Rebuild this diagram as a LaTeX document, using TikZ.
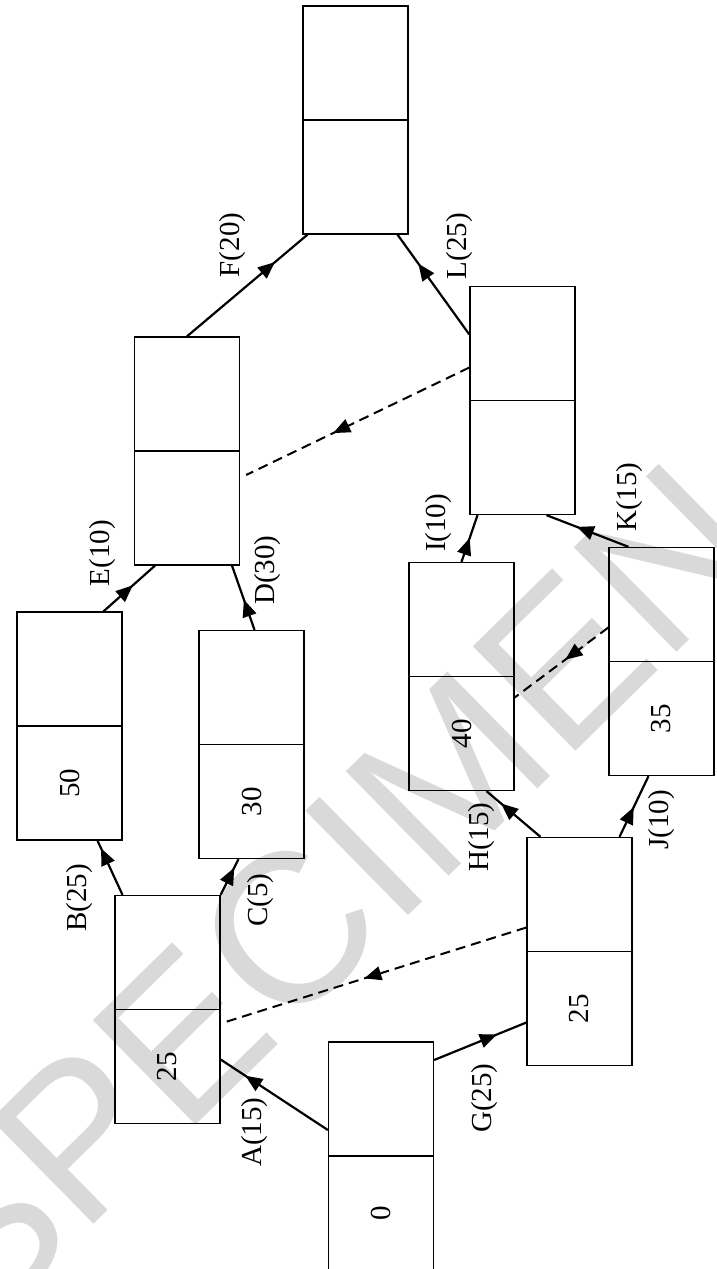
\documentclass[tikz,border=0pt]{standalone}
\usepackage{fontspec}
\setmainfont{Liberation Serif}
\newfontfamily\markfont{Liberation Sans}
\usetikzlibrary{arrows.meta,decorations.markings}

\tikzset{
  event/.style={draw,line width=1.3pt,minimum width=105pt,minimum height=228pt,inner sep=0pt},
  act/.style={line width=2.2pt,postaction={decorate},
    decoration={markings,mark=at position #1 with {\arrow{Triangle[length=17pt,width=14pt]}}}},
  dummy/.style={act=#1,line width=2pt,dash pattern=on 10pt off 6pt},
  lbl/.style={rotate=90,inner sep=0pt,font=\fontsize{29}{30}\selectfont},
}

\begin{document}
\begin{tikzpicture}[x=1pt,y=-1pt]
\useasboundingbox (0,0) rectangle (717,1269);
% watermark
\node[rotate=44.5,text=black!15,inner sep=0pt,font=\markfont\fontsize{213}{213}\selectfont] (wm) at (326,894) {SPECIMEN};

% events
\node[event] (s) at (381,1156) {};
\node[event] (a) at (167.5,1009.5) {};
\node[event] (g) at (579.5,951.5) {};
\node[event] (b) at (69.5,726) {};
\node[event] (c) at (251.5,744.5) {};
\node[event] (h) at (461.5,676.5) {};
\node[event] (j) at (661.5,661.5) {};
\node[event] (e) at (187,451) {};
\node[event] (i) at (522.5,400.5) {};
\node[event] (f) at (355.5,120) {};
\foreach \n in {s,a,g,b,c,h,j,e,i,f}
  \draw[line width=1.3pt] (\n.west) -- (\n.east);
\foreach \n/\v in {s/0,a/25,g/25,b/50,c/30,h/40,j/35}
  \node[lbl] (v\n) at ([yshift=-57pt]\n.center) {\v};

% activities
\draw[act=.77] ([yshift=26pt]s.west) -- ([yshift=-50pt]a.east);
\draw[act=.86] ([xshift=-45pt]a.north) -- ([xshift=28pt]b.south);
\draw[act=.76] (a.north east) -- ([xshift=-13pt]c.south);
\draw[act=.57] ([xshift=34pt]b.north) -- ([xshift=-32pt]e.south);
\draw[act=.47] ([xshift=3pt]c.north) -- ([xshift=45pt]e.south);
\draw[act=.73] (e.north) -- ([xshift=-48pt]f.south);
\draw[act=.71] ([yshift=66pt]i.west) -- ([xshift=42pt]f.south);
\draw[act=.68] ([yshift=96pt]s.east) -- ([yshift=-71pt]g.west);
\draw[act=.73] ([xshift=-39pt]g.north) -- ([xshift=25pt]h.south);
\draw[act=.49] ([xshift=40pt]g.north) -- ([xshift=-13pt]j.south);
\draw[act=.51] (h.north) -- ([xshift=-45pt]i.south);
\draw[act=.63] ([xshift=-33pt]j.north) -- ([xshift=24pt]i.south);
% dummies
\draw[dummy=.61] ([yshift=33pt]i.west) -- ([xshift=6pt,yshift=-24pt]e.east);
\draw[dummy=.53] ([yshift=24pt]g.west) -- ([yshift=-14pt]a.east);
\draw[dummy=.46] ([yshift=34pt]j.west) -- ([yshift=-21pt]h.east);

% labels
\node[lbl] (lA) at (255,1132) {A(15)};
\node[lbl] (lB) at (80,898) {B(25)};
\node[lbl] (lC) at (261,900) {C(5)};
\node[lbl] (lD) at (268,570) {D(30)};
\node[lbl] (lE) at (103,553) {E(10)};
\node[lbl] (lF) at (233,245) {F(20)};
\node[lbl] (lG) at (485,1098) {G(25)};
\node[lbl] (lH) at (482,837) {H(15)};
\node[lbl] (lI) at (439,523) {I(10)};
\node[lbl] (lJ) at (662,820) {J(10)};
\node[lbl] (lK) at (630,497) {K(15)};
\node[lbl] (lL) at (460,246) {L(25)};
\end{tikzpicture}
\end{document}
